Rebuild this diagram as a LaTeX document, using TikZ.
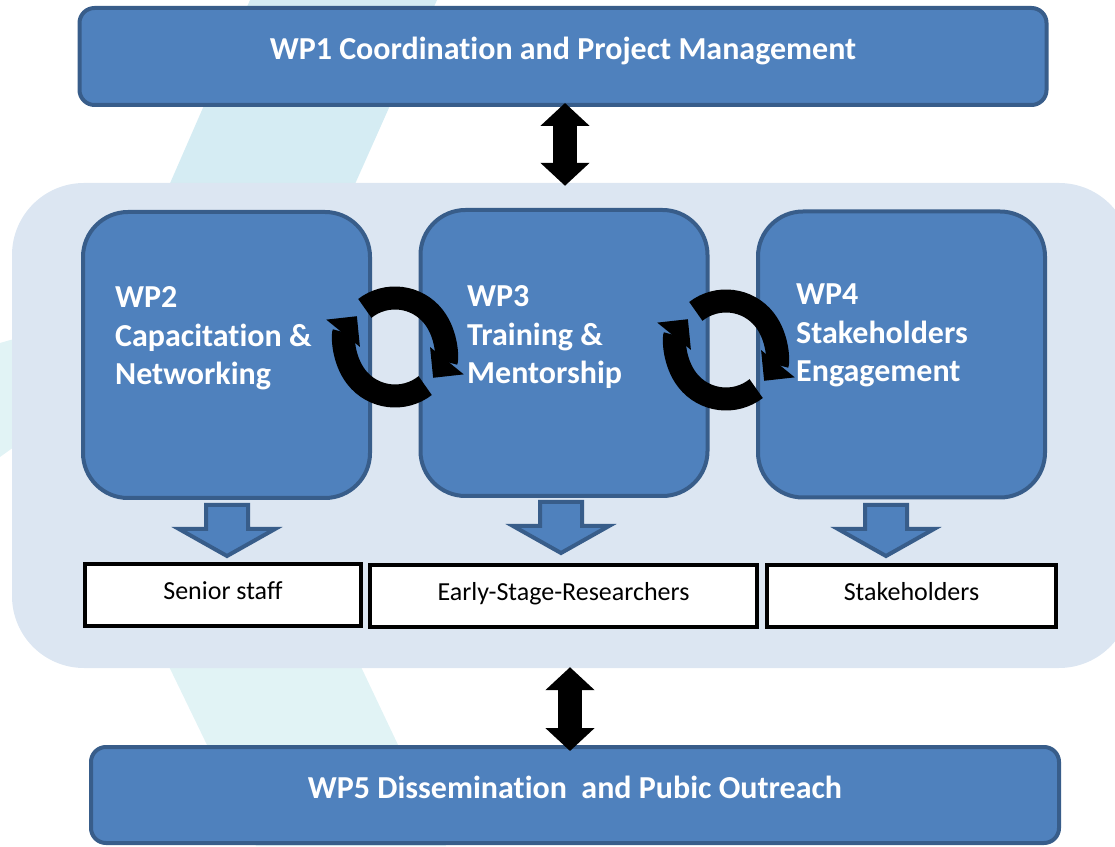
\documentclass[tikz,border=0pt]{standalone}
\usepackage{fontspec}
\setmainfont{Carlito}[Ligatures=NoCommon]
\usetikzlibrary{arrows.meta,calc,positioning}
\definecolor{wpblue}{HTML}{4F81BD}
\definecolor{wpedge}{HTML}{385D8A}
\definecolor{panelblue}{HTML}{DCE6F2}
\definecolor{marktop}{HTML}{D5ECF3}
\definecolor{markbot}{HTML}{E1F3F5}
\tikzset{
	wpbar/.style={draw=wpedge, line width=4pt, fill=wpblue, rounded corners=15pt, text=white, font=\fontsize{32}{38.5}\selectfont\bfseries, text height=22pt, text depth=15pt},
	wpbox/.style={draw=wpedge, line width=4pt, fill=wpblue, rounded corners=45pt, minimum width=287pt, minimum height=286pt},
	wptext/.style={text=white, font=\fontsize{32}{38.5}\selectfont\bfseries, align=left, inner sep=0pt},
	target/.style={draw=black, line width=4pt, fill=white, minimum height=62pt, font=\fontsize{26}{31}\selectfont, text height=18pt, text depth=8pt},
	dblarrow/.style={line width=24pt, {Triangle[width=48pt,length=23pt]}-{Triangle[width=48pt,length=23pt]}},
	downarrow/.style={draw=wpedge, line width=4pt, fill=wpblue, line join=miter},
	cycarr/.style={line width=23pt, -{Triangle[width=42pt,length=22pt]}}
}
\begin{document}
\begin{tikzpicture}[x=1pt,y=1pt]
				\useasboundingbox (0,0) rectangle (1115,846);
				\fill[marktop] (250,846) -- (437,846) -- (339,626) -- (154,626) -- cycle;
				\fill[markbot] (161,196) -- (353,196) -- (446,0) -- (256,0) -- cycle;
				\fill[markbot] (0,389) -- (14,399) -- (14,507) -- (0,503) -- cycle;

				\node[fill=panelblue, rounded corners=72pt, minimum width=1119pt, minimum height=485pt] (panel) at (571.5,420.5) {};

				\node[wpbar, minimum width=967pt, minimum height=97pt] (wp1) at (563,789.5) {WP1 Coordination and Project Management};
				\node[wpbar, minimum width=968pt, minimum height=96pt] (wp5) at (575,51) {WP5 Dissemination\ \ and Pubic Outreach};

				\node[wpbox] (wp2) at (226.5,491) {};
				\node[wpbox] (wp3) at (564,493) {};
				\node[wpbox] (wp4) at (901.5,491.5) {};

				\node[wptext, anchor=base west] (t2) at (115,461) {WP2\\Capacitation \&\\Networking};
				\node[wptext, anchor=base west] (t3) at (467,462) {WP3\\Training \&\\Mentorship};
				\node[wptext, anchor=base west] (t4) at (796,464) {WP4\\Stakeholders\\Engagement};

				\node[target, minimum width=276pt] (senior) at (223,251) {Senior staff};
				\node[target, minimum width=387pt] (esr) at (563.5,250) {Early-Stage-Researchers};
				\node[target, minimum width=289pt] (stake) at (911.5,250) {Stakeholders};

				\foreach \x/\y in {227/343, 561/346, 886/343}
				\draw[downarrow] (\x,{\y-2}) -- ++(21,0) -- ++(0,-24) -- ++(27,0) -- (\x,{\y-53}) -- ++(-48,27) -- ++(27,0) -- ++(0,24) -- cycle;

				\coordinate (cyc1) at (395,499);
				\coordinate (cyc2) at (726,496);
				\foreach \c in {cyc1,cyc2} {
				\draw[cycarr] ([shift={(128:49)}]\c) arc[start angle=128, end angle=-39, radius=49];
				\draw[cycarr] ([shift={(-52:49)}]\c) arc[start angle=-52, end angle=-219, radius=49];
				}

				\draw[dblarrow] ($(wp1.south)+(2,4)$) -- ($(wp1.south |- panel.north)+(2,-3)$);
				\draw[dblarrow] ($(panel.south)+(-1.5,1)$) -- ($(panel.south |- wp5.north)+(-1.5,-6)$);

			\end{tikzpicture}
\end{document}
